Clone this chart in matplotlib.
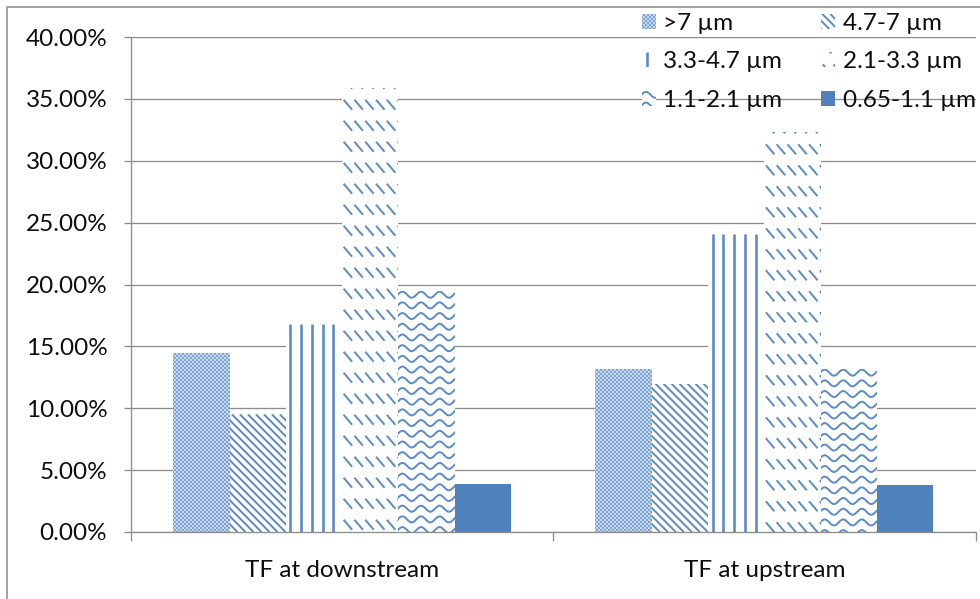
import matplotlib
matplotlib.use("Agg")
import matplotlib.pyplot as plt
import numpy as np
from matplotlib.artist import Artist
from matplotlib.collections import LineCollection
from matplotlib.lines import Line2D
from matplotlib.patches import Rectangle
from matplotlib.transforms import IdentityTransform, Bbox
from matplotlib.legend_handler import HandlerBase
from matplotlib.ticker import FixedLocator, PercentFormatter

# ---- data -------------------------------------------------------------
categories = ["TF at downstream", "TF at upstream"]
size_bins = [">7 µm", "4.7-7 µm", "3.3-4.7 µm", "2.1-3.3 µm", "1.1-2.1 µm", "0.65-1.1 µm"]
downstream = [14.5, 9.5, 16.8, 35.9, 19.5, 3.9]
upstream = [13.2, 12.0, 24.1, 32.3, 13.2, 3.8]
y_ticks = [0, 5, 10, 15, 20, 25, 30, 35, 40]

# ---- style --------------------------------------------------------------
BLUE = "#4F81BD"
GRID = "#8C8C8C"
TEXT = "#0D0D0D"
FONT = "Lato"
FS = 17.5
textures = ["checker", "diag", "vlines", "dashes", "wave", "solid"]

plt.rcParams["font.family"] = [FONT, "DejaVu Sans"]

PX = 72.0 / 100.0  # points per pixel at dpi 100


def texture_segments(kind, bb):
    """Line segments (display pixels) that fill the box bb with a pattern."""
    x0, y0, x1, y1 = bb.x0, bb.y0, bb.x1, bb.y1
    w, h = x1 - x0, y1 - y0
    segs = []
    if kind == "checker":
        # 45-degree lattice snapped to whole pixels so it stays even
        step = 4.0
        ya, yb = np.floor(y0), np.ceil(y1)
        hh = yb - ya
        for c in np.arange(np.floor(x0) - hh - step, x1 + step, step):
            segs.append([(c, yb), (c + hh, ya)])
            segs.append([(c, ya), (c + hh, yb)])
        return segs, 1.3, "#7FA3D3"
    if kind == "diag":
        for c in np.arange(x0 - h - 8, x1 + 8, 8.0):
            segs.append([(c, y1), (c + h, y1 - h)])
        return segs, 2.0, "#5F8DC7"
    if kind == "vlines":
        for x in np.arange(x0 + 4.5, x1, 10.75):
            segs.append([(x, y0), (x, y1)])
        return segs, 2.6, "#5A8AC6"
    if kind == "dashes":
        for yc in np.arange(y1 + 4.0, y0 - 12, -21.0):
            for x in np.arange(x0 + 1.5, x1, 10.8):
                segs.append([(x, yc + 5), (x + 8.5, yc - 5)])
        return segs, 2.0, "#5F8DC7"
    if kind == "wave":
        period, amp = 18.6, 3.0
        xs = np.linspace(x0 - period, x1 + period, max(int((w + 2 * period) * 2), 8))
        for yc in np.arange(y1 - 4.0, y0 - 10, -10.7):
            ys = yc + amp * np.cos(2 * np.pi * (xs - x0 - 4) / period)
            segs.append(np.column_stack([xs, ys]))
        return segs, 2.0, "#5F8DC7"
    return segs, 1.0, BLUE


class Texture(Artist):
    """Pattern fill drawn inside a rectangle patch, in pixel units."""

    def __init__(self, patch, kind):
        super().__init__()
        self.patch = patch
        self.kind = kind
        self.set_zorder(patch.get_zorder() + 0.01)

    def draw(self, renderer):
        if self.kind == "solid":
            return
        bb = self.patch.get_window_extent(renderer)
        segs, lw, color = texture_segments(self.kind, bb)
        if not segs:
            return
        lc = LineCollection(segs, linewidths=lw * PX, colors=color,
                            transform=IdentityTransform(), capstyle="butt")
        lc.set_figure(self.get_figure(root=True))
        lc.set_clip_box(Bbox.from_extents(bb.x0, bb.y0, bb.x1, bb.y1))
        lc.draw(renderer)


class HandlerTexture(HandlerBase):
    def __init__(self, kind):
        super().__init__()
        self.kind = kind

    def create_artists(self, legend, orig_handle, xdescent, ydescent,
                       width, height, fontsize, trans):
        fc = BLUE if self.kind == "solid" else "white"
        r = Rectangle((-xdescent, -ydescent), width, height,
                      facecolor=fc, edgecolor="none", transform=trans)
        return [r, Texture(r, self.kind)]


# ---- figure -------------------------------------------------------------
fig = plt.figure(figsize=(9.8, 5.99), dpi=100)
ax = fig.add_axes([131 / 980, 67 / 599, (975.5 - 131) / 980, (532 - 37) / 599])

x = np.arange(len(categories))
n = len(size_bins)
bw = 0.8 / n
handles = []
for i, (label, kind) in enumerate(zip(size_bins, textures)):
    vals = [downstream[i], upstream[i]]
    fc = BLUE if kind == "solid" else "white"
    bars = ax.bar(x - 0.4 + bw * (i + 0.5), vals, width=bw, color=fc,
                  edgecolor="none", linewidth=0, label=label, zorder=2)
    for b in bars:
        ax.add_artist(Texture(b, kind))
    handles.append(bars)

ax.set_xlim(-0.5, len(categories) - 0.5)
ax.set_ylim(0, 40)

ax.yaxis.set_major_locator(FixedLocator(y_ticks))
ax.yaxis.set_major_formatter(PercentFormatter(decimals=2))
ax.grid(axis="y", color=GRID, linewidth=1.3 * PX, zorder=0)
ax.set_axisbelow(True)

ax.set_xticks(x)
ax.set_xticklabels(categories)
ax.set_xticks(np.arange(-0.5, len(categories), 1.0), minor=True)
ax.tick_params(axis="x", which="major", length=0, pad=20, labelsize=FS, labelcolor=TEXT)
ax.tick_params(axis="x", which="minor", length=9 * PX, width=1.3 * PX,
               color=GRID, direction="out")
ax.tick_params(axis="y", which="major", length=7 * PX, width=1.3 * PX, color=GRID,
               pad=12, labelsize=FS, labelcolor=TEXT)

for s in ["top", "right"]:
    ax.spines[s].set_visible(False)
for s in ["left", "bottom"]:
    ax.spines[s].set_color(GRID)
    ax.spines[s].set_linewidth(1.3 * PX)
    ax.spines[s].set_zorder(3)

# legend: row-major order in two columns
order = [0, 2, 4, 1, 3, 5]
leg = ax.legend([handles[k] for k in order], [size_bins[k] for k in order],
                handler_map={handles[k]: HandlerTexture(textures[k]) for k in range(n)},
                ncol=2, loc="upper left",
                bbox_to_anchor=(642 / 980, 1 - 13 / 599), bbox_transform=fig.transFigure,
                frameon=False, borderpad=0, borderaxespad=0, fontsize=FS,
                handlelength=0.58, handleheight=0.58, handletextpad=0.3,
                columnspacing=1.6, labelspacing=0.72)
for t in leg.get_texts():
    t.set_color(TEXT)

# chart-area border
fx = 7 / 980
fy = 1 - 7 / 599
fig.add_artist(Line2D([fx, fx, 1.0], [0.0, fy, fy], transform=fig.transFigure,
                      color="#8A8A8A", linewidth=1.6 * PX))

fig.savefig("out.png", dpi=100)
